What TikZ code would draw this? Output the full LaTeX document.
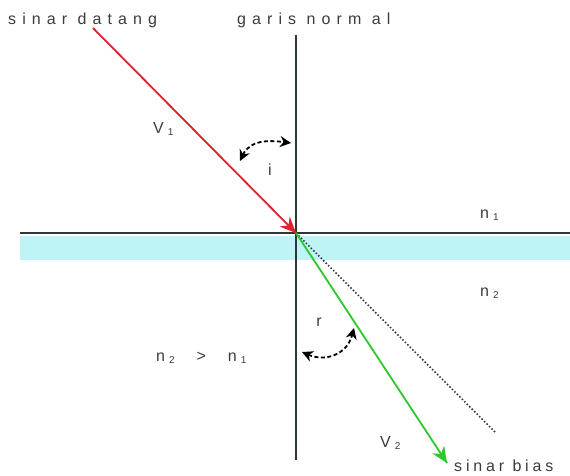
\documentclass[tikz,border=0pt]{standalone}
\usepackage{fontspec}
\setmainfont{Liberation Sans}
\newfontfamily\spaced[LetterSpace=38]{Liberation Sans}
\newfontfamily\tight[LetterSpace=24]{Liberation Sans}
\usetikzlibrary{arrows.meta,decorations.markings}
\definecolor{txtgray}{RGB}{60,60,60}
\definecolor{linegray}{RGB}{45,55,55}
\definecolor{rayred}{RGB}{220,35,45}
\definecolor{raygreen}{RGB}{45,200,45}
\definecolor{bandcyan}{RGB}{190,244,246}
\tikzset{
  lbl/.style={text=txtgray, font=\spaced\fontsize{16}{18}\selectfont, inner sep=0pt},
  ray/.style={line width=1.8pt, decoration={markings,mark=at position 1 with
    {\arrow{Stealth[length=16pt,width=14pt]}}},postaction={decorate}},
  anglearc/.style={line width=1.8pt, dashed, dash pattern=on 4pt off 2.5pt,
    {Stealth[length=11pt,width=11pt]}-{Stealth[length=11pt,width=11pt]}}
}
\newcommand{\sub}[1]{\hspace{4pt}\raisebox{-2pt}{\fontsize{10}{11}\selectfont #1}}
\begin{document}
\begin{tikzpicture}[x=1pt,y=-1pt]
\useasboundingbox[fill=white] (0,0) rectangle (570,476);
% points
\coordinate (O) at (296,233);
\coordinate (src) at (93,28);
\coordinate (tgt) at (447,463);
\coordinate (dot) at (495,432);
\coordinate (N) at (296,35);
\coordinate (S) at (296,460);
\coordinate (W) at (20,233);
\coordinate (E) at (570,233);
% medium
\fill[bandcyan] (20,236) rectangle (570,260);
\draw[linegray, line width=2.6pt] (W) -- (E);
\draw[linegray, line width=2.6pt] (N) -- (S);
% rays
\draw[line width=1.5pt, dotted, linegray] (O) -- (dot);
\draw[ray, rayred] (src) -- (O);
\draw[ray, raygreen] (O) -- (tgt);
% angles
\coordinate (i1) at (240,161);
\coordinate (i2) at (291,143);
\coordinate (r1) at (302,352);
\coordinate (r2) at (354,328);
\draw[anglearc] (i1) .. controls (250,140) and (268,140) .. (i2);
\draw[anglearc] (r1) .. controls (325,362) and (347,355) .. (r2);
% labels
\node[lbl, anchor=base west] (datang) at (8,25) {sinar datang};
\node[lbl, anchor=base west] (normal) at (237,25) {garis norm al};
\node[lbl, anchor=base west] (v1) at (153,133) {V\sub{1}};
\node[lbl] (i) at (270,170) {i};
\node[lbl, anchor=base west] (n1) at (480,218) {n\sub{1}};
\node[lbl, anchor=base west] (n2) at (480,296) {n\sub{2}};
\node[lbl] (r) at (319,322) {r};
\node[lbl, anchor=base west] (ineq) at (156,361) {n\sub{2}\hspace{22pt}>\hspace{22pt}n\sub{1}};
\node[lbl, anchor=base west] (v2) at (380,447) {V\sub{2}};
\node[lbl, anchor=base west, font=\tight\fontsize{16}{18}\selectfont] (bias) at (454,471) {sinar bias};
\end{tikzpicture}
\end{document}
